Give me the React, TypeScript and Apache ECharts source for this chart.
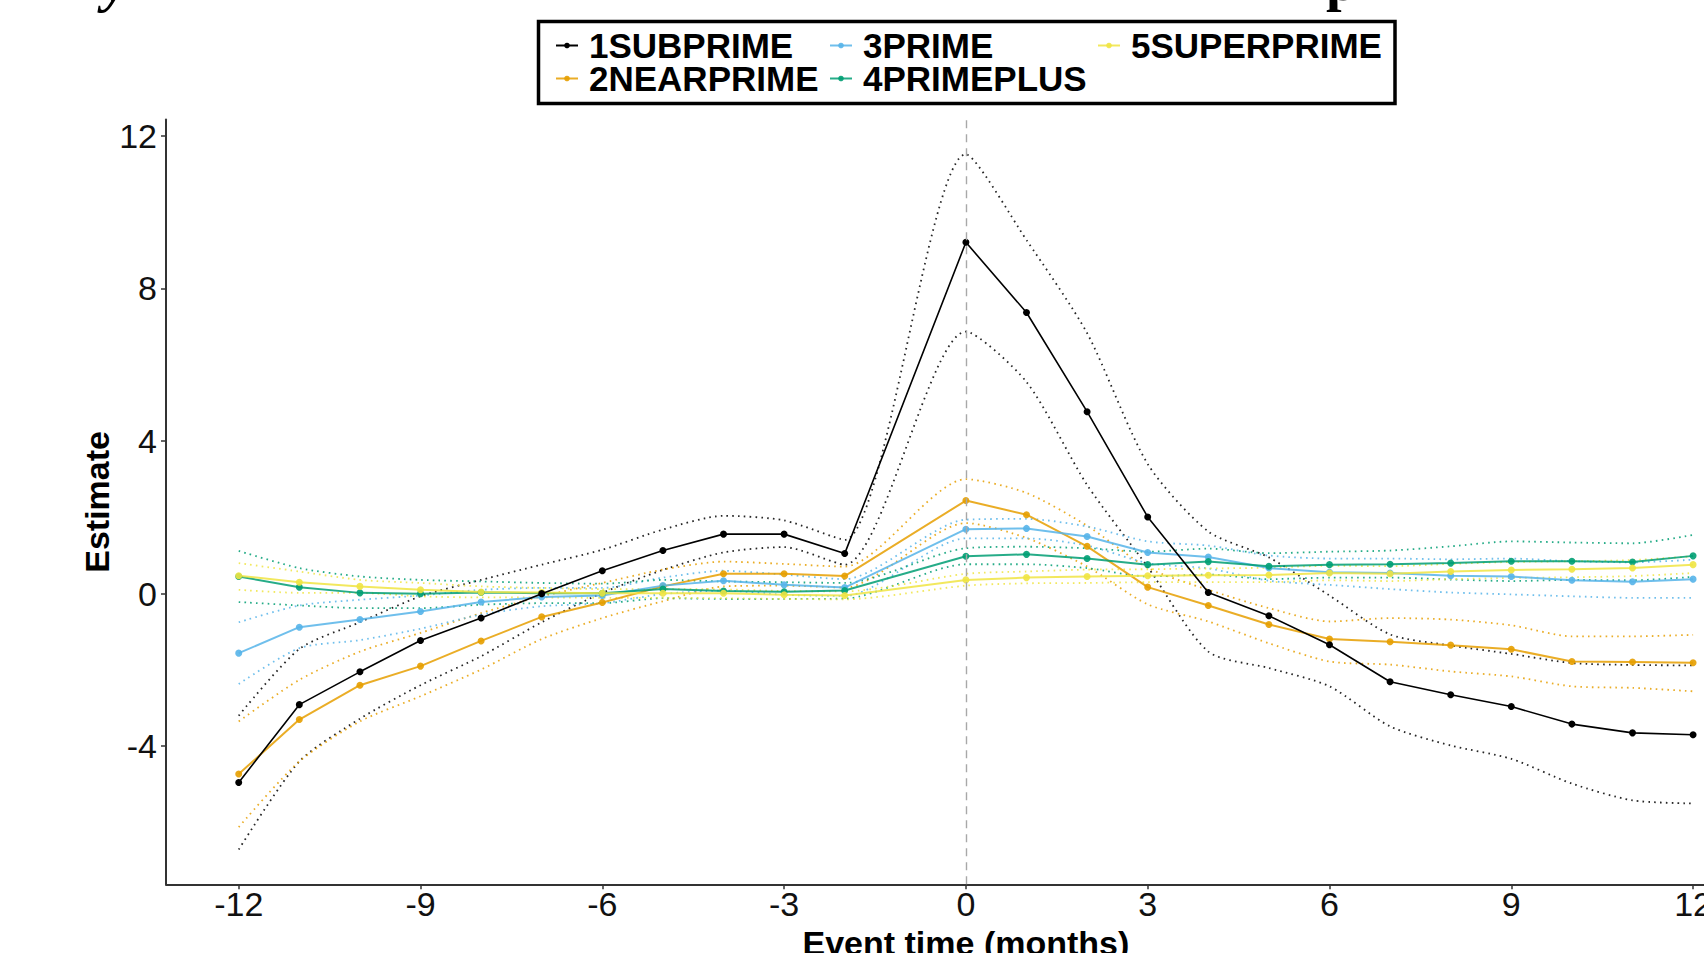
import React, { useEffect, useRef } from "react";
import * as echarts from "echarts";

// Event months (month -1 is the omitted reference period)
const months = [-12, -11, -10, -9, -8, -7, -6, -5, -4, -3, -2, 0, 1, 2, 3, 4, 5, 6, 7, 8, 9, 10, 11, 12];
const xTicks = [-12, -9, -6, -3, 0, 3, 6, 9, 12];
const yTicks = [-4, 0, 4, 8, 12];

const groups = ["1SUBPRIME", "2NEARPRIME", "3PRIME", "4PRIMEPLUS", "5SUPERPRIME"];
const groupColors = ["#000000", "#E69F00", "#56B4E9", "#009E73", "#F0E442"];

const subprimeEst = [-4.95, -2.91, -2.05, -1.23, -0.64, 0.0, 0.6, 1.13, 1.56, 1.56, 1.05, 9.21, 7.37, 4.77, 2.01, 0.03, -0.58, -1.34, -2.31, -2.65, -2.96, -3.42, -3.65, -3.7];
const subprimeUpper = [-3.2, -1.45, -0.75, -0.07, 0.36, 0.76, 1.15, 1.68, 2.04, 1.92, 1.41, 11.52, 9.27, 6.83, 3.4, 1.63, 0.95, -0.05, -1.07, -1.36, -1.58, -1.82, -1.87, -1.88];
const subprimeLower = [-6.71, -4.4, -3.28, -2.4, -1.64, -0.75, 0.02, 0.62, 1.08, 1.22, 0.76, 6.87, 5.55, 2.85, 0.7, -1.52, -1.95, -2.43, -3.48, -3.98, -4.33, -4.98, -5.42, -5.5];

const nearprimeEst = [-4.73, -3.3, -2.4, -1.9, -1.24, -0.61, -0.23, 0.19, 0.52, 0.52, 0.46, 2.44, 2.07, 1.24, 0.17, -0.31, -0.81, -1.19, -1.26, -1.35, -1.46, -1.78, -1.79, -1.81];
const nearprimeUpper = [-3.35, -2.26, -1.52, -1.03, -0.51, -0.07, 0.28, 0.63, 0.84, 0.78, 0.71, 3.0, 2.64, 1.78, 0.68, 0.1, -0.38, -0.73, -0.64, -0.68, -0.83, -1.12, -1.12, -1.08];
const nearprimeLower = [-6.12, -4.4, -3.35, -2.69, -1.99, -1.19, -0.64, -0.2, 0.19, 0.21, 0.16, 1.85, 1.46, 0.71, -0.28, -0.73, -1.3, -1.78, -1.86, -2.04, -2.17, -2.43, -2.47, -2.56];

const primeEst = [-1.56, -0.88, -0.68, -0.47, -0.22, -0.09, -0.05, 0.21, 0.34, 0.23, 0.16, 1.69, 1.71, 1.5, 1.08, 0.96, 0.67, 0.56, 0.54, 0.47, 0.45, 0.35, 0.31, 0.38];
const primeUpper = [-0.75, -0.31, -0.16, -0.05, 0.1, 0.15, 0.15, 0.42, 0.6, 0.5, 0.38, 1.94, 1.96, 1.76, 1.37, 1.26, 1.0, 0.92, 0.92, 0.9, 0.92, 0.85, 0.82, 0.89];
const primeLower = [-2.37, -1.43, -1.22, -0.92, -0.55, -0.33, -0.25, -0.01, 0.08, -0.03, -0.06, 1.45, 1.45, 1.26, 0.8, 0.66, 0.34, 0.23, 0.12, 0.03, -0.02, -0.07, -0.11, -0.11];

const primeplusEst = [0.45, 0.17, 0.02, 0.0, 0.03, 0.01, 0.01, 0.12, 0.07, 0.05, 0.08, 0.98, 1.03, 0.92, 0.76, 0.84, 0.72, 0.76, 0.77, 0.8, 0.85, 0.85, 0.83, 0.99];
const primeplusUpper = [1.12, 0.67, 0.45, 0.36, 0.32, 0.28, 0.26, 0.36, 0.32, 0.3, 0.28, 1.19, 1.23, 1.19, 1.1, 1.18, 1.06, 1.1, 1.13, 1.24, 1.37, 1.34, 1.32, 1.54];
const primeplusLower = [-0.22, -0.31, -0.38, -0.38, -0.29, -0.25, -0.25, -0.12, -0.14, -0.14, -0.13, 0.77, 0.77, 0.67, 0.45, 0.5, 0.38, 0.42, 0.42, 0.37, 0.33, 0.36, 0.35, 0.44];

const superprimeEst = [0.47, 0.3, 0.19, 0.1, 0.04, 0.03, 0.01, 0.01, 0.01, -0.03, -0.05, 0.36, 0.42, 0.45, 0.47, 0.48, 0.49, 0.54, 0.52, 0.58, 0.62, 0.64, 0.67, 0.76];
const superprimeUpper = [0.8, 0.58, 0.36, 0.28, 0.19, 0.15, 0.12, 0.12, 0.11, 0.07, 0.06, 0.52, 0.58, 0.63, 0.64, 0.66, 0.68, 0.73, 0.72, 0.78, 0.83, 0.85, 0.88, 0.98];
const superprimeLower = [0.1, 0.02, 0.02, -0.07, -0.1, -0.1, -0.11, -0.11, -0.12, -0.14, -0.15, 0.21, 0.27, 0.28, 0.3, 0.3, 0.3, 0.35, 0.33, 0.38, 0.41, 0.43, 0.46, 0.54];

const estimates = [subprimeEst, nearprimeEst, primeEst, primeplusEst, superprimeEst];
const uppers = [subprimeUpper, nearprimeUpper, primeUpper, primeplusUpper, superprimeUpper];
const lowers = [subprimeLower, nearprimeLower, primeLower, primeplusLower, superprimeLower];

const FONT = '"Liberation Sans", Arial, Helvetica, sans-serif';

function pairs(vals: number[]) {
  return months.map((m, i) => [m, vals[i]]);
}

export default function App() {
  const ref = useRef<HTMLDivElement>(null);

  useEffect(() => {
    if (!ref.current) return;
    const chart = echarts.init(ref.current, undefined, { renderer: "svg" });

    const series: any[] = [];
    groups.forEach((g, gi) => {
      const color = groupColors[gi];
      [uppers[gi], lowers[gi]].forEach((vals, k) => {
        series.push({
          name: g + (k === 0 ? " upper" : " lower"),
          type: "line",
          data: pairs(vals),
          showSymbol: false,
          symbol: "none",
          smooth: 0.25,
          silent: true,
          z: 2,
          lineStyle: { color, width: 1.8, type: [1.6, 4.2], opacity: 0.85 },
          itemStyle: { color },
        });
      });
    });
    groups.forEach((g, gi) => {
      const color = groupColors[gi];
      const s: any = {
        name: g,
        type: "line",
        data: pairs(estimates[gi]),
        symbol: "circle",
        symbolSize: 7,
        showSymbol: true,
        z: gi === 0 ? 4 : 3,
        lineStyle: { color, width: gi === 0 ? 1.6 : 2, opacity: gi === 0 ? 1 : 0.85 },
        itemStyle: { color, opacity: gi === 0 ? 1 : 0.9 },
      };
      if (gi === 0) {
        s.markLine = {
          silent: true,
          symbol: ["none", "none"],
          label: { show: false },
          lineStyle: { color: "#a8a8a8", type: [8, 6], width: 1.4 },
          data: [{ xAxis: 0 }],
        };
      }
      series.push(s);
    });

    const legendCommon = {
      orient: "vertical",
      top: 28,
      padding: 0,
      itemGap: -2,
      itemWidth: 22,
      itemHeight: 7,
      selectedMode: false,
      z: 10,
      textStyle: {
        fontFamily: FONT,
        fontWeight: "bold",
        fontSize: 35,
        color: "#000",
        lineHeight: 30,
        padding: [0, 0, 0, 6],
      },
    };

    chart.setOption({
      animation: false,
      backgroundColor: "#ffffff",
      grid: {
        left: 166,
        top: 119.5,
        right: 34.2,
        bottom: 68.7,
        containLabel: false,
        outerBoundsMode: "none",
      },
      legend: [
        { ...legendCommon, left: 555, data: [groups[0], groups[1]] },
        { ...legendCommon, left: 829, data: [groups[2], groups[3]] },
        { ...legendCommon, left: 1097, data: [groups[4]] },
      ],
      xAxis: {
        type: "value",
        min: -13.2,
        max: 13.2,
        name: "Event time (months)",
        nameLocation: "middle",
        nameGap: 37,
        nameTextStyle: { fontFamily: FONT, fontWeight: "bold", fontSize: 34, color: "#000" },
        axisLine: { show: true, onZero: false, lineStyle: { color: "#333", width: 2 } },
        axisTick: { show: true, length: 5, customValues: xTicks, lineStyle: { color: "#333", width: 1.5 } },
        axisLabel: { customValues: xTicks, fontFamily: FONT, fontSize: 34, color: "#111", margin: 3 },
        splitLine: { show: false },
      },
      yAxis: {
        type: "value",
        min: -7.62,
        max: 12.43,
        name: "Estimate",
        nameLocation: "middle",
        nameRotate: 90,
        nameGap: 52,
        nameMoveOverlap: false,
        nameTextStyle: { fontFamily: FONT, fontWeight: "bold", fontSize: 34, color: "#000" },
        axisLine: { show: true, onZero: false, lineStyle: { color: "#333", width: 2 } },
        axisTick: { show: true, length: 5, customValues: yTicks, lineStyle: { color: "#333", width: 1.5 } },
        axisLabel: { customValues: yTicks, fontFamily: FONT, fontSize: 34, color: "#111", margin: 9 },
        splitLine: { show: false },
      },
      graphic: [
        {
          type: "rect",
          z: 1,
          silent: true,
          shape: { x: 538.5, y: 21.5, width: 856.5, height: 82 },
          style: { fill: "none", stroke: "#000", lineWidth: 3.5 },
        },
        {
          type: "text",
          silent: true,
          x: 103,
          y: 10,
          style: {
            text: "y",
            fontFamily: '"Liberation Serif", "DejaVu Serif", serif',
            fontSize: 56,
            fontWeight: "bold",
            fontStyle: "italic",
            fill: "#000",
            verticalAlign: "bottom",
          },
        },
        {
          type: "text",
          silent: true,
          x: 1326,
          y: 9,
          style: {
            text: "p",
            fontFamily: '"Liberation Serif", "DejaVu Serif", serif',
            fontSize: 56,
            fontWeight: "bold",
            fill: "#000",
            verticalAlign: "bottom",
          },
        },
      ],
      series,
    });

    return () => {
      chart.dispose();
    };
  }, []);

  return (
    <div
      style={{
        position: "fixed",
        left: 0,
        top: 0,
        width: 1704,
        height: 953,
        overflow: "hidden",
        background: "#fff",
      }}
    >
      <div ref={ref} style={{ width: 1800, height: 953 }} />
    </div>
  );
}
